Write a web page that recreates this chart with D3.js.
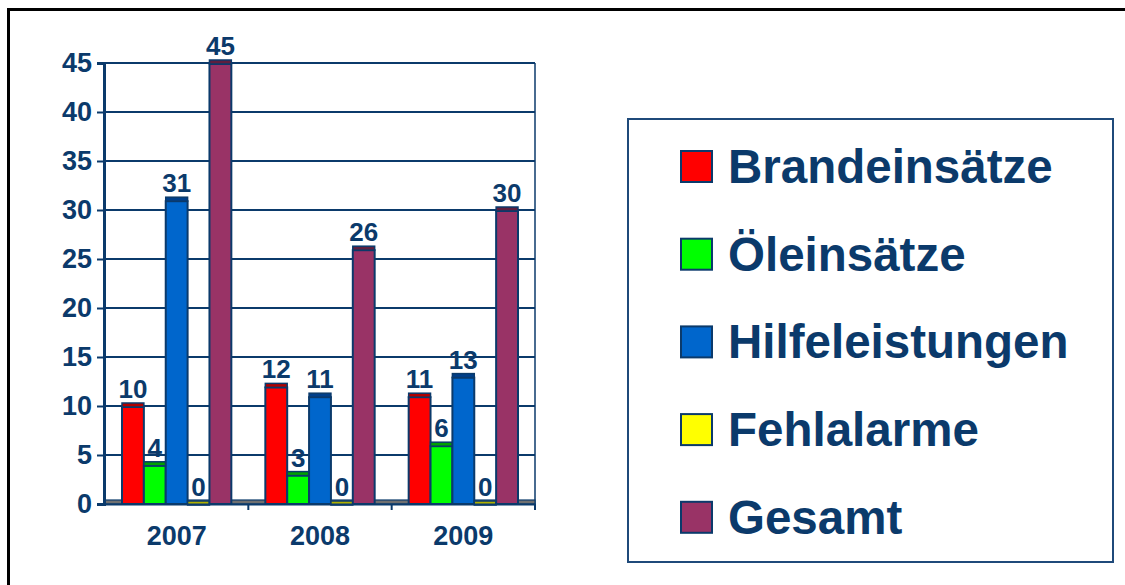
<!DOCTYPE html>
<html>
<head>
<meta charset="utf-8">
<script src="https://cdn.jsdelivr.net/npm/d3@7/dist/d3.min.js"></script>
<style>
  html, body { margin: 0; padding: 0; background: #fff; }
  svg { display: block; font-family: "Liberation Sans", Arial, sans-serif; font-weight: bold; }
</style>
</head>
<body>
<svg id="chart" width="1125" height="585"></svg>
<script>
const years = ["2007", "2008", "2009"];
const seriesNames = ["Brandeinsätze", "Öleinsätze", "Hilfeleistungen", "Fehlalarme", "Gesamt"];
const brandeinsaetze = [10, 12, 11];
const oeleinsaetze = [4, 3, 6];
const hilfeleistungen = [31, 11, 13];
const fehlalarme = [0, 0, 0];
const gesamt = [45, 26, 30];
const yTicks = [0, 5, 10, 15, 20, 25, 30, 35, 40, 45];

(function () {
const seriesValues = [brandeinsaetze, oeleinsaetze, hilfeleistungen, fehlalarme, gesamt];
const colors = ["#ff0000", "#00ff00", "#0066cc", "#ffff00", "#993366"];
const capColors = ["#b00000", "#00a000", "#003f8a", "#b0b000", "#5e1f3f"];
const navy = "#0b3a6b";

const svg = d3.select("#chart");

// outer border
svg.append("rect").attr("x", 8.5).attr("y", 9.5).attr("width", 1300).attr("height", 800)
  .attr("fill", "none").attr("stroke", "#000").attr("stroke-width", 3);

const pLeft = 105, pRight = 535, pTop = 63, pBottom = 504;
const x0 = d3.scaleBand().domain(years).range([pLeft, pRight]).paddingInner(0).paddingOuter(0);
const x1 = d3.scaleBand().domain(seriesNames).range([17, x0.bandwidth() - 17]).padding(0);
const y = d3.scaleLinear().domain([0, 45]).range([pBottom, pTop]);

// gridlines
svg.append("g").selectAll("line").data(yTicks.filter(d => d > 0)).join("line")
  .attr("x1", pLeft).attr("x2", pRight)
  .attr("y1", d => y(d)).attr("y2", d => y(d))
  .attr("stroke", navy).attr("stroke-width", 2);
// right edge
svg.append("line").attr("x1", pRight).attr("x2", pRight).attr("y1", y(45)).attr("y2", y(0))
  .attr("stroke", navy).attr("stroke-width", 1.5);

// floor strip
svg.append("rect").attr("x", pLeft).attr("y", y(0) - 4).attr("width", pRight - pLeft).attr("height", 4)
  .attr("fill", "#707070").attr("stroke", navy).attr("stroke-width", 1.2);

// bars
const groups = svg.append("g").selectAll("g").data(years).join("g")
  .attr("transform", d => `translate(${x0(d)},0)`);

groups.each(function(yr, gi) {
  const g = d3.select(this);
  seriesNames.forEach((s, si) => {
    const v = seriesValues[si][gi];
    const bx = x1(s), bw = x1.bandwidth();
    if (v > 0) {
      g.append("rect").attr("x", bx).attr("y", y(v) + 1).attr("width", bw).attr("height", y(0) - y(v) - 1)
        .attr("fill", colors[si]).attr("stroke", navy).attr("stroke-width", 2);
    }
    g.append("rect").attr("x", bx).attr("y", y(v) - 3).attr("width", bw).attr("height", 4)
      .attr("fill", capColors[si]).attr("stroke", navy).attr("stroke-width", 1.5);
    g.append("text").attr("x", bx + bw / 2).attr("y", y(v) - 8)
      .attr("text-anchor", "middle").attr("font-size", 26).attr("fill", navy).text(v);
  });
});

// y axis
const yAxis = d3.axisLeft(y).tickValues(yTicks).tickSize(7).tickPadding(5);
const ya = svg.append("g").attr("transform", `translate(${pLeft - 1},0)`).call(yAxis);
ya.select(".domain").attr("stroke", navy).attr("stroke-width", 3);
ya.selectAll(".tick line").attr("stroke", navy).attr("stroke-width", 2);
ya.selectAll(".tick text").attr("fill", navy).attr("font-size", 27)
  .attr("font-family", "Liberation Sans, Arial, sans-serif").attr("font-weight", "bold");

// x axis
const xAxis = d3.axisBottom(x0).tickSize(0).tickPadding(22);
const xa = svg.append("g").attr("transform", `translate(0,${pBottom})`).call(xAxis);
xa.select(".domain").attr("stroke", navy).attr("stroke-width", 2);
xa.selectAll(".tick text").attr("fill", navy).attr("font-size", 27)
  .attr("font-family", "Liberation Sans, Arial, sans-serif").attr("font-weight", "bold");
// group boundary ticks
svg.append("g").selectAll("line").data([years[1], years[2], null]).join("line")
  .attr("x1", d => d ? x0(d) : pRight).attr("x2", d => d ? x0(d) : pRight)
  .attr("y1", pBottom).attr("y2", pBottom + 6).attr("stroke", navy).attr("stroke-width", 2);

// legend
svg.append("rect").attr("x", 628).attr("y", 119).attr("width", 485).attr("height", 443)
  .attr("fill", "#fff").attr("stroke", "#1f4a7a").attr("stroke-width", 2);
const leg = svg.append("g").selectAll("g").data(seriesNames).join("g")
  .attr("transform", (d, i) => `translate(681,${151 + i * 87.7})`);
leg.append("rect").attr("width", 31).attr("height", 31)
  .attr("fill", (d, i) => colors[i]).attr("stroke", navy).attr("stroke-width", 2);
leg.append("text").attr("x", 47).attr("y", 32).attr("font-size", 47.5).attr("fill", navy).text(d => d);
})();
</script>
</body>
</html>
